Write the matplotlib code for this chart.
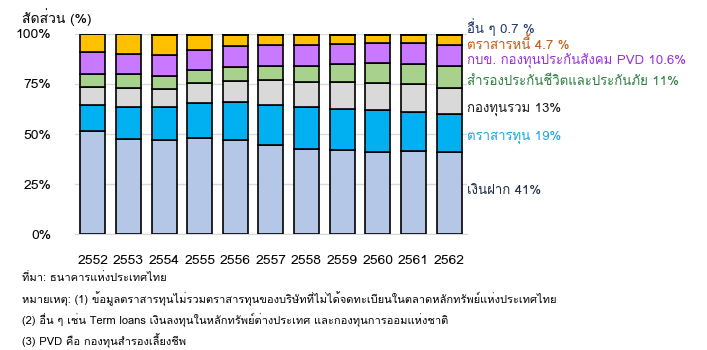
import matplotlib
matplotlib.use('Agg')
import numpy as np
import matplotlib.pyplot as plt

plt.rcParams['font.family'] = ['Loma', 'DejaVu Sans']

# data (%)
years = ['2552', '2553', '2554', '2555', '2556', '2557', '2558', '2559', '2560', '2561', '2562']
deposit = [51.3, 47.3, 46.8, 47.8, 46.8, 44.3, 42.3, 41.8, 40.8, 41.3, 41.0]
equity = [13.0, 16.0, 16.5, 17.5, 19.0, 20.0, 21.0, 20.5, 21.0, 19.5, 19.0]
fund = [9.0, 9.5, 9.0, 10.0, 10.5, 12.5, 12.5, 13.5, 13.5, 14.0, 13.0]
insurance = [6.5, 7.0, 6.5, 6.5, 7.0, 7.0, 8.0, 9.0, 10.0, 10.0, 11.0]
gpf_pvd = [11.0, 10.0, 10.5, 10.0, 10.5, 10.5, 10.5, 10.0, 10.0, 10.5, 10.6]
debt = [9.1, 10.1, 10.3, 7.9, 5.9, 5.4, 5.4, 4.8, 4.2, 4.0, 4.7]
other = [0.1, 0.1, 0.4, 0.3, 0.3, 0.3, 0.3, 0.4, 0.5, 0.7, 0.7]

series = [deposit, equity, fund, insurance, gpf_pvd, debt, other]
colors = ['#B4C7E7', '#00B0F0', '#D9D9D9', '#A9D18E', '#C879FF', '#FFC000', '#1F3864']
labels = ['เงินฝาก 41%', 'ตราสารทุน 19%', 'กองทุนรวม 13%', 'สำรองประกันชีวิตและประกันภัย 11%',
          'กบข. กองทุนประกันสังคม PVD 10.6%', 'ตราสารหนี้ 4.7 %', 'อื่น ๆ 0.7 %']
label_colors = ['#1F2A44', '#1EA4E0', '#1a1a1a', '#2E8040', '#9933DD', '#C55A11', '#203864']
label_y = [21.8, 48.2, 62.3, 76.3, 86.0, 94.9, 103.6]

fig = plt.figure(figsize=(7.07, 3.5), dpi=100)
ax = fig.add_axes([0.106, 0.331, 0.5545, 0.572])

x = np.arange(len(years))
bottom = np.zeros(len(years))
for vals, c in zip(series, colors):
    ax.bar(x, vals, 0.7, bottom=bottom, color=c, edgecolor='black', linewidth=1.2, zorder=3)
    bottom += np.array(vals)

for lab, lc, ly in zip(labels, label_colors, label_y):
    ax.text(len(years) - 0.5, ly, lab, color=lc, fontsize=9.5, va='center', ha='left', clip_on=False)

ax.set_xlim(-0.5, len(years) - 0.5)
ax.set_ylim(0, 100)
ax.set_yticks([0, 25, 50, 75, 100])
ax.set_yticklabels(['0%', '25%', '50%', '75%', '100%'], fontsize=10)
ax.set_xticks(x)
ax.set_xticklabels(years, fontsize=10)
ax.tick_params(axis='both', length=0)
ax.tick_params(axis='y', pad=17)
ax.tick_params(axis='x', pad=15)
ax.grid(axis='y', color='#D9D9D9', linewidth=1, zorder=0)
for s in ['top', 'right', 'left']:
    ax.spines[s].set_visible(False)
ax.spines['bottom'].set_color('#D9D9D9')

fig.text(22 / 707, 1 - 17 / 350, 'สัดส่วน (%)', fontsize=10, va='center')

notes = ['ที่มา: ธนาคารแห่งประเทศไทย',
         'หมายเหตุ: (1) ข้อมูลตราสารทุนไม่รวมตราสารทุนของบริษัทที่ไม่ได้จดทะเบียนในตลาดหลักทรัพย์แห่งประเทศไทย',
         '(2) อื่น ๆ เช่น Term loans เงินลงทุนในหลักทรัพย์ต่างประเทศ และกองทุนการออมแห่งชาติ',
         '(3) PVD คือ กองทุนสำรองเลี้ยงชีพ']
for i, n in enumerate(notes):
    fig.text(22 / 707, 1 - (278 + i * 21) / 350, n, fontsize=8, va='center')

fig.savefig('out.png', dpi=100)
